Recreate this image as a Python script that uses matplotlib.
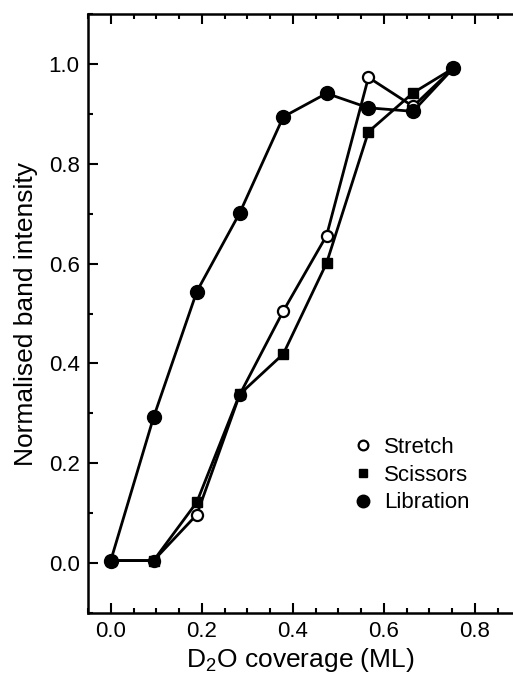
import numpy as np
import matplotlib
matplotlib.use("Agg")
import matplotlib.pyplot as plt
from matplotlib.lines import Line2D
from matplotlib.ticker import MultipleLocator

plt.rcParams["font.family"] = ["Liberation Sans", "DejaVu Sans"]
plt.rcParams["mathtext.fontset"] = "custom"
plt.rcParams["mathtext.rm"] = "Liberation Sans"

# coverage (ML)
coverage = [0.0, 0.094, 0.189, 0.283, 0.379, 0.474, 0.566, 0.664, 0.752]
stretch = [0.005, 0.005, 0.097, 0.337, 0.505, 0.656, 0.973, 0.915, 0.991]
scissors = [0.005, 0.005, 0.122, 0.338, 0.419, 0.601, 0.864, 0.942, 0.991]
libration = [0.005, 0.292, 0.544, 0.701, 0.894, 0.941, 0.912, 0.905, 0.991]
names = ["Stretch", "Scissors", "Libration"]

fig = plt.figure(figsize=(5.13, 6.77), dpi=100)
ax = fig.add_axes([88/513, 1-613/677, 1-88/513, (613-14)/677])

lw = 2.0
ax.plot(coverage, stretch, "-o", color="black", lw=lw, ms=8, mfc="white", mec="black", mew=1.6, zorder=3)
ax.plot(coverage, scissors, "-s", color="black", lw=lw, ms=7, zorder=4)
ax.plot(coverage, libration, "-o", color="black", lw=lw, ms=10, zorder=5)

ax.set_xlim(-0.05, 0.8835)
ax.set_ylim(-0.1, 1.1)
ax.xaxis.set_major_locator(MultipleLocator(0.2))
ax.xaxis.set_minor_locator(MultipleLocator(0.05))
ax.yaxis.set_major_locator(MultipleLocator(0.2))
ax.yaxis.set_minor_locator(MultipleLocator(0.1))
ax.xaxis.set_major_formatter(plt.FormatStrFormatter("%.1f"))
ax.yaxis.set_major_formatter(plt.FormatStrFormatter("%.1f"))

ax.spines["right"].set_visible(False)
for s in ["left", "top", "bottom"]:
  ax.spines[s].set_linewidth(1.8)
ax.tick_params(which="both", direction="in", top=True, right=False, width=1.5)
ax.tick_params(which="major", length=7, labelsize=16, pad=6)
ax.tick_params(which="minor", length=3.5)

ax.set_xlabel("D$_2$O coverage (ML)", fontsize=19, labelpad=3)
ax.set_ylabel("Normalised band intensity", fontsize=19, labelpad=8)

handles = [
  Line2D([], [], ls="none", marker="o", ms=7, mfc="white", mec="black", mew=1.6, color="black"),
  Line2D([], [], ls="none", marker="s", ms=6, color="black"),
  Line2D([], [], ls="none", marker="o", ms=9, color="black"),
]
ax.legend(handles, names, loc="center left", bbox_to_anchor=(0.573, 0.23), frameon=False,
          fontsize=16, handlelength=1.0, handletextpad=0.45, labelspacing=0.3)

fig.savefig("out.png", dpi=100)
